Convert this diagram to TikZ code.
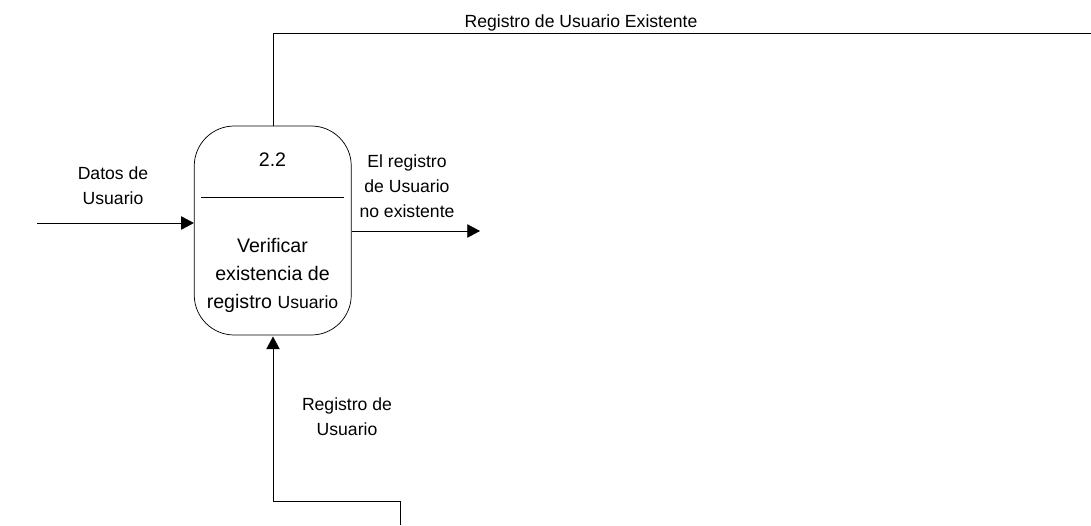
\documentclass[tikz,border=0pt]{standalone}
\usepackage{fontspec}
\setmainfont{Liberation Sans}
\usetikzlibrary{arrows.meta}
\tikzset{
  px/.style={x=0.75pt,y=-0.75pt},
  flow/.style={draw=black,line width=0.55pt,-{Triangle[length=9.5pt,width=10pt]}},
  plain/.style={draw=black,line width=0.55pt},
  lab/.style={inner sep=0pt,align=center,font=\fontsize{13.2}{18.6}\selectfont},
  big/.style={inner sep=0pt,align=center,font=\fontsize{14.7}{21}\selectfont},
  proc/.style={draw=black,line width=0.55pt,rounded corners=30pt,minimum width=117.75pt,minimum height=156.75pt,inner sep=0pt}
}
\begin{document}
\begin{tikzpicture}[px]
\useasboundingbox (0,0) rectangle (1091,525);
\node[proc] (p) at (272.75,230.5) {};
\coordinate (topcorner) at (273,33);
\coordinate (topend) at (1091,33);
\coordinate (intop) at (273,126);
\coordinate (lin) at (37,223);
\coordinate (lout) at (p.west |- lin);
\coordinate (rstart) at (p.east |- 0,231);
\coordinate (rend) at (480,231);
\coordinate (bstart) at (400,525);
\coordinate (bc1) at (400,501);
\coordinate (bc2) at (273,501);
\coordinate (bend) at (273,336.5);
\coordinate (sepl) at (201,197);
\coordinate (sepr) at (344,197);
\draw[plain] (intop) -- (topcorner) -- (topend);
\draw[flow] (lin) -- (lout);
\draw[flow] (rstart) -- (rend);
\draw[flow] (bstart) -- (bc1) -- (bc2) -- (bend);
\draw[plain] (sepl) -- (sepr);
\node[big] (n) at (272.5,160) {2.2};
\node[big] (t) at (272.5,275) {Verificar\\existencia de\\registro {\fontsize{13.2}{21}\selectfont Usuario}};
\node[lab] (l1) at (581,23) {Registro de Usuario Existente};
\node[lab] (l2) at (113,186) {Datos de\\Usuario};
\node[lab] (l3) at (407,186) {El registro\\de Usuario\\no existente};
\node[lab] (l4) at (347,417) {Registro de\\Usuario};
\end{tikzpicture}
\end{document}
